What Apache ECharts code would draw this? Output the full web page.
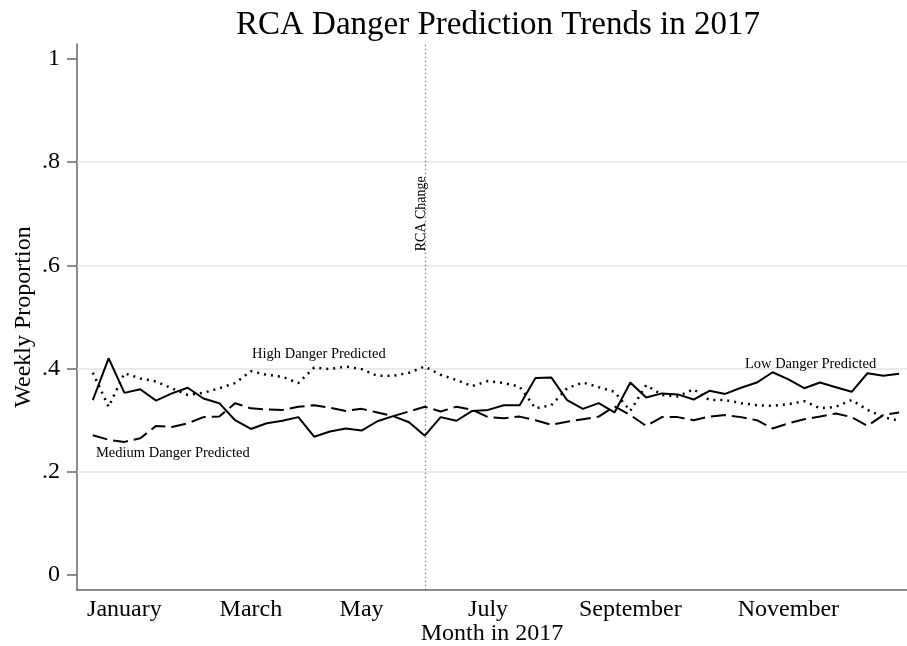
<!DOCTYPE html>
<html>
<head>
<meta charset="utf-8">
<script src="https://cdn.jsdelivr.net/npm/echarts@6/dist/echarts.min.js"></script>
<style>
html,body{margin:0;padding:0;background:#fff;}
#chart{width:907px;height:646px;}
</style>
</head>
<body>
<div id="chart"></div>
<script>
// Week index (0..51) of 2017
const weeks = Array.from({length: 52}, (_, i) => i);

// Low Danger Predicted (solid)
const lowDanger = [0.339,0.420,0.353,0.360,0.338,0.352,0.363,0.342,0.333,0.300,
  0.283,0.294,0.299,0.306,0.268,0.278,0.284,0.280,0.298,0.308,
  0.296,0.270,0.306,0.299,0.318,0.320,0.329,0.329,0.382,0.383,
  0.339,0.322,0.333,0.315,0.373,0.344,0.352,0.350,0.340,0.357,
  0.351,0.363,0.373,0.393,0.379,0.362,0.373,0.364,0.355,0.391,
  0.386,0.390];

// High Danger Predicted (dotted)
const highDanger = [0.392,0.326,0.391,0.381,0.375,0.362,0.349,0.353,0.362,0.372,
  0.395,0.388,0.384,0.372,0.402,0.399,0.404,0.399,0.386,0.386,
  0.392,0.404,0.388,0.378,0.366,0.376,0.372,0.365,0.323,0.329,
  0.362,0.373,0.364,0.355,0.318,0.368,0.349,0.346,0.360,0.339,
  0.339,0.333,0.329,0.328,0.331,0.337,0.323,0.326,0.339,0.320,
  0.306,0.299];

// Medium Danger Predicted (dashed)
const mediumDanger = [0.271,0.262,0.258,0.265,0.289,0.287,0.294,0.306,0.307,0.333,
  0.323,0.321,0.320,0.326,0.329,0.324,0.318,0.322,0.315,0.308,
  0.317,0.326,0.317,0.326,0.320,0.306,0.304,0.307,0.300,0.291,
  0.297,0.302,0.307,0.327,0.310,0.289,0.306,0.306,0.300,0.307,
  0.310,0.306,0.300,0.284,0.294,0.302,0.307,0.313,0.306,0.289,
  0.310,0.315];

// X-axis month labels (positions in week units)
const monthTicks = [2, 10, 17, 25, 34, 44];
const monthNames = ['January', 'March', 'May', 'July', 'September', 'November'];

// Y-axis tick values
const yTicks = [0, 0.2, 0.4, 0.6, 0.8, 1];
const gridLines = [0.2, 0.4, 0.6, 0.8];

// RCA change week
const rcaChangeWeek = 21;

const FONT = '"Liberation Serif", "Times New Roman", serif';
const toPairs = arr => arr.map((v, i) => [weeks[i], v]);

const chart = echarts.init(document.getElementById('chart'), null, {renderer: 'canvas'});
chart.setOption({
  animation: false,
  backgroundColor: '#fff',
  title: {
    text: 'RCA Danger Prediction Trends in 2017',
    left: 493, top: 4, textAlign: 'center',
    textStyle: {fontFamily: FONT, fontSize: 33, fontWeight: 'normal', color: '#000'}
  },
  grid: {left: 77, right: 0, top: 44, bottom: 56, containLabel: false, outerBoundsMode: 'none'},
  xAxis: {
    type: 'value', min: -1, max: 51.5,
    name: 'Month in 2017', nameLocation: 'middle', nameGap: 32, nameMoveOverlap: false,
    nameTextStyle: {fontFamily: FONT, fontSize: 24, color: '#000'},
    axisLine: {show: true, onZero: false, lineStyle: {color: '#666', width: 1.5}},
    axisTick: {show: false},
    splitLine: {show: false},
    axisLabel: {
      customValues: monthTicks,
      formatter: v => { const k = monthTicks.indexOf(v); return k >= 0 ? monthNames[k] : ''; },
      fontFamily: FONT, fontSize: 24, color: '#000', margin: 8
    }
  },
  yAxis: {
    type: 'value', min: -0.029, max: 1.029,
    name: 'Weekly Proportion', nameLocation: 'middle', nameGap: 41, nameRotate: 90, nameMoveOverlap: false,
    nameTextStyle: {fontFamily: FONT, fontSize: 24, color: '#000'},
    axisLine: {show: true, onZero: false, lineStyle: {color: '#666', width: 1.5}},
    axisTick: {show: true, customValues: yTicks, length: 10, lineStyle: {color: '#666', width: 1.5}},
    splitLine: {show: false},
    axisLabel: {
      customValues: yTicks,
      formatter: v => (v === 0 ? '0' : v === 1 ? '1' : String(+v.toFixed(1)).replace(/^0\./, '.')),
      fontFamily: FONT, fontSize: 24, color: '#000', margin: 17
    }
  },
  series: [
    {
      name: 'Grid', type: 'line', data: [], silent: true,
      markLine: {
        silent: true, symbol: 'none', label: {show: false},
        lineStyle: {color: '#e3e3e3', type: 'solid', width: 1.5},
        data: gridLines.map(g => ({yAxis: g}))
      }
    },
    {
      name: 'Low Danger Predicted', type: 'line', data: toPairs(lowDanger),
      showSymbol: false, symbol: 'none', z: 5,
      lineStyle: {color: '#000', width: 2, type: 'solid'},
      markPoint: {
        symbol: 'circle', symbolSize: 0,
        label: {show: true, fontFamily: FONT, fontSize: 14.5, color: '#000', position: 'inside'},
        data: [{coord: [45.4, 0.409], value: 'Low Danger Predicted'}]
      }
    },
    {
      name: 'High Danger Predicted', type: 'line', data: toPairs(highDanger),
      showSymbol: false, symbol: 'none', z: 5,
      lineStyle: {color: '#000', width: 2.5, type: [2, 5], cap: 'butt'},
      markPoint: {
        symbol: 'circle', symbolSize: 0,
        label: {show: true, fontFamily: FONT, fontSize: 14.5, color: '#000', position: 'inside'},
        data: [{coord: [14.3, 0.428], value: 'High Danger Predicted'}]
      }
    },
    {
      name: 'Medium Danger Predicted', type: 'line', data: toPairs(mediumDanger),
      showSymbol: false, symbol: 'none', z: 5,
      lineStyle: {color: '#000', width: 2, type: [15, 6]},
      markPoint: {
        symbol: 'circle', symbolSize: 0,
        label: {show: true, fontFamily: FONT, fontSize: 14.5, color: '#000', position: 'inside'},
        data: [{coord: [5.06, 0.236], value: 'Medium Danger Predicted'}]
      },
      markLine: {
        silent: true, symbol: 'none', label: {show: false},
        lineStyle: {color: '#666', type: [1.2, 2.8], width: 1.2},
        data: [{xAxis: rcaChangeWeek}]
      }
    },
    {
      name: 'RCA label', type: 'line', data: [], silent: true,
      markPoint: {
        symbol: 'circle', symbolSize: 0,
        label: {show: true, fontFamily: FONT, fontSize: 14, color: '#000', position: 'inside', rotate: 90},
        data: [{coord: [rcaChangeWeek - 0.25, 0.70], value: 'RCA Change'}]
      }
    }
  ]
});
</script>
</body>
</html>
